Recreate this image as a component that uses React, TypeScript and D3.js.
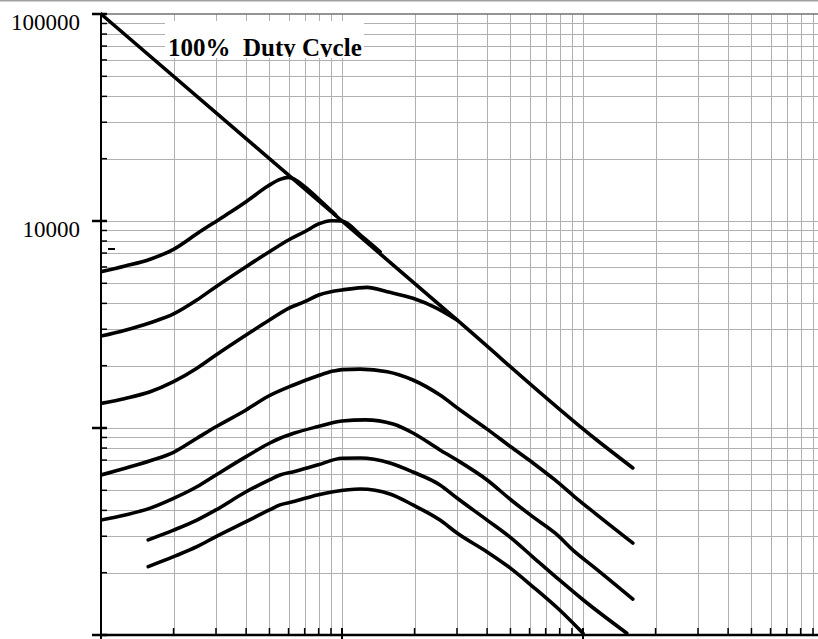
import React, { useEffect, useRef } from 'react'
import * as d3 from 'd3'

// values (x: unlabelled log axis, y: log axis)
const yLabels = ['100000', '10000']
const titleText = '100% Duty Cycle'

const dutyX = [1, 10, 30, 114, 161]
const dutyY = [100000, 10000, 3325, 875, 641]

const curveAX = [1, 1.26, 1.6, 2, 2.57, 3.22, 4, 4.93, 5.53, 6, 7, 8, 9.4]
const curveAY = [5690, 6063, 6538, 7295, 8870, 10490, 12390, 14750, 15890, 16250, 14650, 12750, 10700]

const curveBX = [1, 1.26, 1.6, 2, 2.5, 3, 4, 5, 6, 7, 8, 9, 10, 12, 14.4]
const curveBY = [2780, 2970, 3226, 3556, 4153, 4816, 6017, 7110, 8097, 8872, 9677, 10030, 10000, 8500, 7100]

const curveCX = [1, 1.26, 1.6, 2, 2.5, 3, 4, 5, 6, 7, 8, 9, 10, 12.7, 15.4, 19.7, 24.8, 30]
const curveCY = [1315, 1390, 1496, 1674, 1943, 2252, 2813, 3325, 3787, 4074, 4391, 4553, 4641, 4780, 4550, 4233, 3786, 3325]

const curveDX = [1, 1.26, 1.6, 2, 2.5, 3, 4, 4.9, 6.3, 7.9, 9.2, 10, 11.9, 15.4, 19.7, 25.5, 30.9, 40, 50.3, 62, 76.5, 92.6, 112, 161]
const curveDY = [593, 639, 695, 763, 892, 1014, 1222, 1416, 1614, 1783, 1884, 1915, 1925, 1871, 1706, 1443, 1222, 988, 809, 678, 561, 464, 388, 278]

const curveEX = [1, 1.26, 1.6, 2, 2.5, 3, 4, 5, 5.53, 6.3, 7.9, 10, 12.5, 16.3, 19.7, 25.5, 30, 40, 50.3, 62, 76.5, 92.6, 112, 161]
const curveEY = [359, 380, 410, 457, 520, 593, 727, 844, 892, 943, 1014, 1081, 1095, 1045, 946, 783, 700, 561, 449, 372, 311, 252, 211, 149]

const curveFX = [1.57, 2, 2.5, 3, 4, 5, 5.53, 6.3, 7.9, 10, 11.9, 15.8, 19.7, 25.5, 30, 40, 49.8, 62, 80, 100, 152]
const curveFY = [288, 321, 359, 402, 492, 561, 593, 615, 662, 714, 716, 678, 613, 531, 459, 359, 297, 238, 184, 148, 102]

const curveGX = [1.57, 2, 2.5, 3, 4, 5, 5.53, 6.3, 7.9, 9.2, 11.9, 15.8, 19.7, 25.5, 30, 40, 49.8, 62, 80, 100]
const curveGY = [214, 239, 267, 299, 353, 402, 425, 441, 475, 492, 507, 480, 425, 359, 311, 252, 211, 171, 132, 102]

const W = 818
const H = 639

const App: React.FC = () => {
  const ref = useRef<HTMLDivElement>(null)

  useEffect(() => {
    if (!ref.current) return
    document.body.style.margin = '0'

    const svg = d3
      .select(ref.current)
      .append('svg')
      .attr('width', W)
      .attr('height', H)
      .style('display', 'block')
      .style('background', '#fff')

    const x = d3.scaleLog().domain([1, 1000]).range([101, 824])
    const y = d3.scaleLog().domain([100, 100000]).range([635, 14])

    const xTicks = x.ticks().filter(d => x(d) <= W)
    const yTicks = y.ticks()
    const isMajor = (d: number) => Math.abs(Math.log10(d) - Math.round(Math.log10(d))) < 1e-9

    // frame at the very top
    svg.append('line').attr('x1', 0).attr('x2', W).attr('y1', 0.5).attr('y2', 0.5)
      .attr('stroke', '#a0a0a0').attr('stroke-width', 2)

    // grid
    const grid = svg.append('g').attr('stroke', '#b0b0b0').attr('stroke-width', 1)
    grid.selectAll('line.v').data(xTicks.filter(d => d > 1)).enter().append('line')
      .attr('x1', d => Math.round(x(d)) + 0.5).attr('x2', d => Math.round(x(d)) + 0.5)
      .attr('y1', y(100000)).attr('y2', y(100))
    grid.selectAll('line.h').data(yTicks.filter(d => d > 100 && d < 100000)).enter().append('line')
      .attr('y1', d => Math.round(y(d)) + 0.5).attr('y2', d => Math.round(y(d)) + 0.5)
      .attr('x1', x(1)).attr('x2', W)

    // top border of plot
    svg.append('line').attr('x1', x(1)).attr('x2', W).attr('y1', y(100000)).attr('y2', y(100000))
      .attr('stroke', '#707070').attr('stroke-width', 1.5)

    // white box behind title
    svg.append('rect').attr('x', 165).attr('y', 21).attr('width', 199).attr('height', 37).attr('fill', '#fff')

    // curves
    const line = d3.line<[number, number]>()
      .x(d => x(d[0]))
      .y(d => y(d[1]))
      .curve(d3.curveMonotoneX)

    const series: [number, number][][] = [
      d3.zip(dutyX, dutyY) as [number, number][],
      d3.zip(curveAX, curveAY) as [number, number][],
      d3.zip(curveBX, curveBY) as [number, number][],
      d3.zip(curveCX, curveCY) as [number, number][],
      d3.zip(curveDX, curveDY) as [number, number][],
      d3.zip(curveEX, curveEY) as [number, number][],
      d3.zip(curveFX, curveFY) as [number, number][],
      d3.zip(curveGX, curveGY) as [number, number][],
    ]

    const defs = svg.append('defs')
    defs.append('clipPath').attr('id', 'plotclip')
      .append('rect').attr('x', x(1)).attr('y', 0).attr('width', W).attr('height', y(100))

    svg.append('g').attr('clip-path', 'url(#plotclip)')
      .selectAll('path').data(series).enter().append('path')
      .attr('d', d => line(d))
      .attr('fill', 'none')
      .attr('stroke', '#000')
      .attr('stroke-width', 3.6)
      .attr('stroke-linecap', 'round')
      .attr('stroke-linejoin', 'round')

    // axes
    const axes = svg.append('g').attr('stroke', '#000')
    axes.append('line').attr('x1', x(1)).attr('x2', x(1)).attr('y1', y(100000)).attr('y2', y(100) + 1)
      .attr('stroke-width', 2)
    axes.append('line').attr('x1', x(1)).attr('x2', W).attr('y1', y(100)).attr('y2', y(100))
      .attr('stroke-width', 2.5)

    axes.selectAll('line.yt').data(yTicks).enter().append('line')
      .attr('x1', d => (isMajor(d) ? x(1) - 9 : x(1)))
      .attr('x2', x(1) + 6)
      .attr('y1', d => y(d)).attr('y2', d => y(d))
      .attr('stroke-width', d => (isMajor(d) ? 2.5 : 1.5))

    axes.selectAll('line.xt').data(xTicks).enter().append('line')
      .attr('x1', d => x(d)).attr('x2', d => x(d))
      .attr('y1', y(100) - 7)
      .attr('y2', d => (isMajor(d) ? y(100) + 5 : y(100)))
      .attr('stroke-width', d => (isMajor(d) ? 2 : 1.5))

    // stray dash near the axis
    axes.append('line').attr('x1', 108).attr('x2', 115).attr('y1', 249).attr('y2', 249).attr('stroke-width', 2)

    // y labels
    svg.selectAll('text.yl').data(yLabels).enter().append('text')
      .attr('x', 80)
      .attr('y', d => y(+d) + 16)
      .attr('text-anchor', 'end')
      .attr('font-family', '"Liberation Serif", "Times New Roman", serif')
      .attr('font-size', 23)
      .attr('fill', '#000')
      .text(d => d)

    // title, descenders clipped like the original
    defs.append('clipPath').attr('id', 'titleclip')
      .append('rect').attr('x', 160).attr('y', 20).attr('width', 220).attr('height', 37)
    svg.append('text')
      .attr('clip-path', 'url(#titleclip)')
      .attr('x', 168)
      .attr('y', 55.5)
      .attr('font-family', '"Liberation Serif", "Times New Roman", serif')
      .attr('font-weight', 'bold')
      .attr('font-size', 25)
      .style('white-space', 'pre')
      .attr('fill', '#000')
      .text(titleText.replace(' ', '  '))

    return () => {
      svg.remove()
    }
  }, [])

  return <div ref={ref} style={{ width: W, height: H }} />
}

export default App
